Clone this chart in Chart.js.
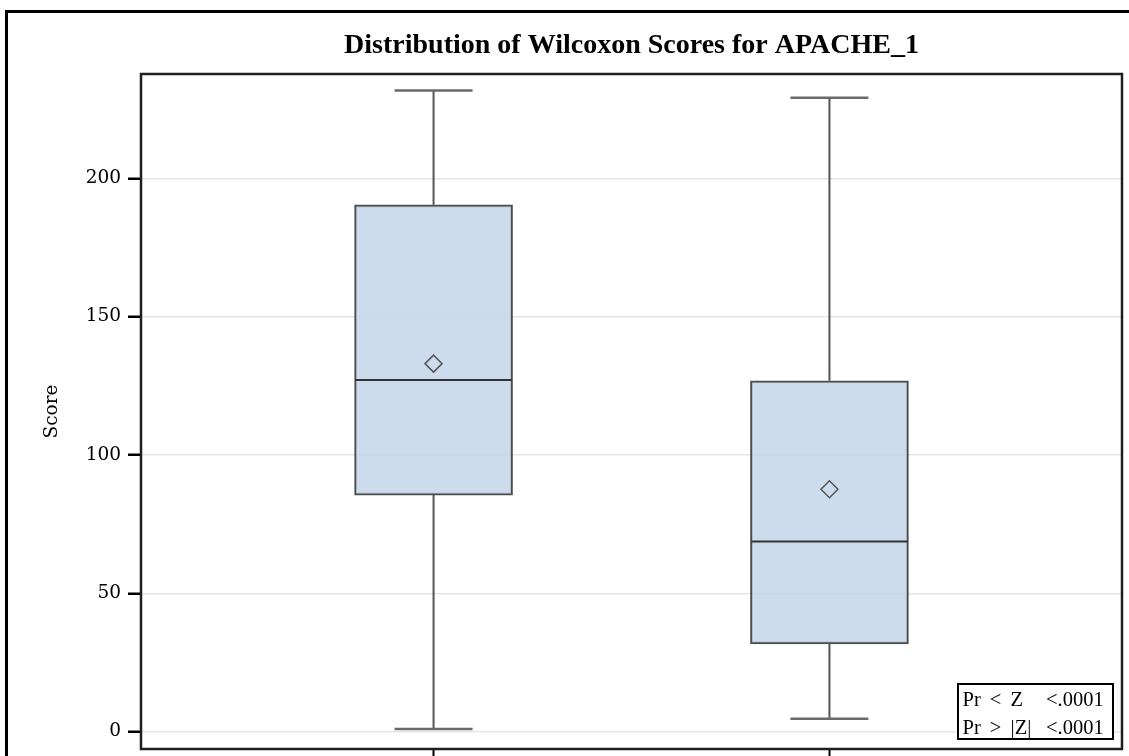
<!DOCTYPE html>
<html>
<head>
<meta charset="utf-8">
<script src="https://cdn.jsdelivr.net/npm/chart.js@4.4.1/dist/chart.umd.min.js"></script>
<style>
  html, body { margin: 0; padding: 0; background: #fff; overflow: hidden; width: 1129px; height: 756px; }
  #wrap { position: absolute; left: 0; top: 0; width: 1200px; height: 800px; }
</style>
</head>
<body>
<div id="wrap"><canvas id="chart" width="1200" height="800"></canvas></div>
<script>
// Wilcoxon score summaries, one entry per group
const titleText = 'Distribution of Wilcoxon Scores for APACHE_1';
const yTitle = 'Score';
const groupPos = [1, 2];
const whiskerLow = [0.9, 4.6];
const q1 = [85.5, 31.7];
const median = [127.1, 68.7];
const q3 = [190.4, 126.8];
const whiskerHigh = [231.7, 229.1];
const means = [133.0, 87.6];
const yTicks = [0, 50, 100, 150, 200];
const testLabels = ['Pr < Z', 'Pr > |Z|'];
const testValues = ['<.0001', '<.0001'];

const BOX_WIDTH = 158;
const CAP_WIDTH = 78;

// whiskers, caps, medians, frame, title and test inset
const boxParts = {
  id: 'boxParts',
  beforeDraw(chart) {
    const ctx = chart.ctx;
    ctx.save();
    ctx.fillStyle = '#fff';
    ctx.fillRect(0, 0, chart.width, chart.height);
    ctx.restore();
  },
  afterDatasetsDraw(chart) {
    const ctx = chart.ctx;
    const xs = chart.scales.x, ys = chart.scales.y;
    ctx.save();
    groupPos.forEach((g, i) => {
      const xp = xs.getPixelForValue(g);
      // whiskers
      ctx.strokeStyle = '#555';
      ctx.lineWidth = 2;
      ctx.beginPath();
      ctx.moveTo(xp, ys.getPixelForValue(whiskerHigh[i]));
      ctx.lineTo(xp, ys.getPixelForValue(q3[i]));
      ctx.moveTo(xp, ys.getPixelForValue(q1[i]));
      ctx.lineTo(xp, ys.getPixelForValue(whiskerLow[i]));
      ctx.stroke();
      // caps
      ctx.strokeStyle = '#6a6a6a';
      ctx.lineWidth = 2.5;
      ctx.beginPath();
      [whiskerHigh[i], whiskerLow[i]].forEach(v => {
        const yp = ys.getPixelForValue(v);
        ctx.moveTo(xp - CAP_WIDTH / 2, yp);
        ctx.lineTo(xp + CAP_WIDTH / 2, yp);
      });
      ctx.stroke();
      // median
      ctx.strokeStyle = '#333';
      ctx.lineWidth = 2;
      ctx.beginPath();
      const ym = ys.getPixelForValue(median[i]);
      ctx.moveTo(xp - BOX_WIDTH / 2 + 1, ym);
      ctx.lineTo(xp + BOX_WIDTH / 2 - 1, ym);
      ctx.stroke();
    });
    ctx.restore();
  },
  afterDraw(chart) {
    const ctx = chart.ctx;
    const a = chart.chartArea;
    ctx.save();
    // plot frame
    ctx.strokeStyle = '#1e1e1e';
    ctx.lineWidth = 2.5;
    ctx.strokeRect(a.left, a.top, a.right - a.left, a.bottom - a.top);
    // outer graph border
    ctx.strokeStyle = '#000';
    ctx.lineWidth = 3;
    ctx.strokeRect(6.5, 11.5, 3000, 3000);
    // title
    ctx.fillStyle = '#000';
    ctx.font = 'bold 28px "Liberation Serif"';
    ctx.textAlign = 'center';
    ctx.textBaseline = 'middle';
    ctx.fillText(titleText, (a.left + a.right) / 2, 46);
    // test inset
    const bw = 155, bh = 55;
    const bx = a.right - 9 - bw, by = a.bottom - 10 - bh;
    ctx.fillStyle = '#fff';
    ctx.fillRect(bx, by, bw, bh);
    ctx.strokeStyle = '#000';
    ctx.lineWidth = 2;
    ctx.strokeRect(bx, by, bw, bh);
    ctx.fillStyle = '#000';
    ctx.font = '20.5px "Liberation Serif"';
    ctx.textAlign = 'left';
    ctx.textBaseline = 'alphabetic';
    testLabels.forEach((t, i) => {
      const yb = by + 22 + i * 28.3;
      ctx.wordSpacing = '4px';
      ctx.fillText(t, bx + 4.5, yb);
      ctx.wordSpacing = '0px';
      ctx.fillText(testValues[i], bx + 88, yb);
    });
    ctx.restore();
  }
};

new Chart(document.getElementById('chart'), {
  type: 'bar',
  data: {
    datasets: [
      {
        type: 'bar',
        data: groupPos.map((g, i) => ({ x: g, y: [q1[i], q3[i]] })),
        backgroundColor: 'rgba(196,214,233,0.85)',
        borderColor: '#4d4d4d',
        borderWidth: 2,
        borderSkipped: false,
        barThickness: BOX_WIDTH,
        order: 2
      },
      {
        type: 'scatter',
        data: groupPos.map((g, i) => ({ x: g, y: means[i] })),
        pointStyle: 'rectRot',
        pointRadius: 8.5,
        backgroundColor: 'rgba(0,0,0,0)',
        borderColor: '#555',
        borderWidth: 1.5,
        order: 1
      }
    ]
  },
  options: {
    responsive: false,
    animation: false,
    devicePixelRatio: 1,
    layout: { padding: { top: 74, right: 78, bottom: 31, left: 0 } },
    plugins: { legend: { display: false }, tooltip: { enabled: false }, title: { display: false } },
    scales: {
      x: {
        type: 'linear',
        min: 0.261,
        max: 2.739,
        offset: false,
        afterBuildTicks: s => { s.ticks = groupPos.map(v => ({ value: v })); },
        afterFit: s => { s.height = 20; },
        grid: { offset: false, drawOnChartArea: false, drawTicks: true, tickLength: 20, tickColor: '#000', tickWidth: 2 },
        ticks: { display: false },
        border: { display: false }
      },
      y: {
        min: -6.3,
        max: 237.7,
        afterBuildTicks: s => { s.ticks = yTicks.map(v => ({ value: v })); },
        afterFit: s => { s.width = 141; },
        grid: { color: '#e6e6e6', lineWidth: 1.5, tickLength: 13, tickColor: '#000', tickWidth: 2.5 },
        ticks: { padding: 7, color: '#000', font: { family: 'DejaVu Serif', size: 18.5 } },
        border: { display: false },
        title: {
          display: true,
          text: yTitle,
          color: '#000',
          font: { family: 'DejaVu Serif', size: 18.5 },
          padding: { top: 41, bottom: 0 }
        }
      }
    }
  },
  plugins: [boxParts]
});
</script>
</body>
</html>
